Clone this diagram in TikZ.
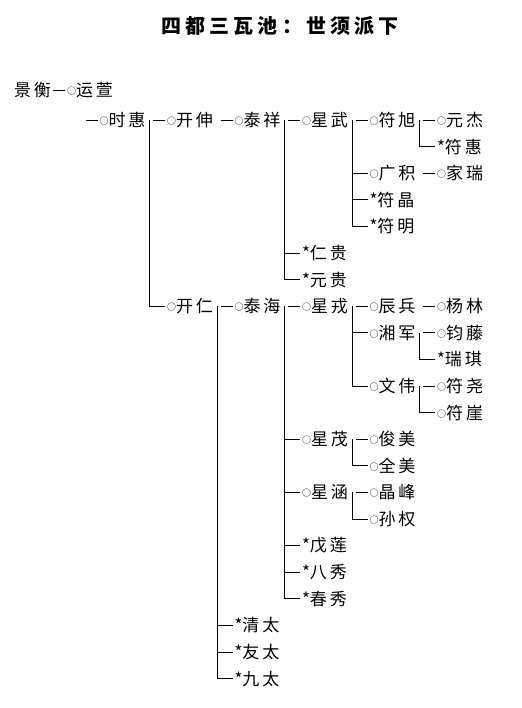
\documentclass[tikz,border=0pt]{standalone}
\usepackage{fontspec}
\newfontfamily\cjkname[LetterSpace=17.6]{Noto Sans CJK SC}
\newfontfamily\cjktitle[LetterSpace=21,BoldFont={* Black}]{Noto Sans CJK SC}
\newcommand\oo{\makebox[9pt]{\raisebox{2pt}{\fontsize{9pt}{9pt}\selectfont ○}}}
\newcommand\xing{\makebox[8pt]{*}}
\tikzset{
  pn/.style={anchor=west, inner sep=0pt, outer sep=0pt, font={\cjkname\fontsize{17pt}{20pt}\selectfont}},
  ttl/.style={inner sep=0pt, font={\cjktitle\bfseries\fontsize{20pt}{24pt}\selectfont}},
  ln/.style={line width=0.9pt, black}
}
\begin{document}
\begin{tikzpicture}[x=1pt,y=-1pt]
\useasboundingbox (0,0) rectangle (521,708);
\node[ttl] (title) at (280,26) {四都三瓦池：世须派下};
% people
\node[pn] (jh) at (14,90) {景衡};
\node[pn] (yx) at (67,90) {\oo 运萱};
\node[pn] (sh) at (99.5,120) {\oo 时惠};
\node[pn] (ks) at (167,120) {\oo 开伸};
\node[pn] (tx) at (234.5,120) {\oo 泰祥};
\node[pn] (xw) at (302,120) {\oo 星武};
\node[pn] (fx) at (369.5,120) {\oo 符旭};
\node[pn] (yj) at (437,120) {\oo 元杰};
\node[pn] (fh) at (437,146.6) {\xing 符惠};
\node[pn] (gj) at (369.5,173.2) {\oo 广积};
\node[pn] (jr) at (437,173.2) {\oo 家瑞};
\node[pn] (fj) at (369.5,199.8) {\xing 符晶};
\node[pn] (fm) at (369.5,226.4) {\xing 符明};
\node[pn] (rg) at (302,253) {\xing 仁贵};
\node[pn] (yg) at (302,279.6) {\xing 元贵};
\node[pn] (kr) at (167,306.2) {\oo 开仁};
\node[pn] (th) at (234.5,306.2) {\oo 泰海};
\node[pn] (xr) at (302,306.2) {\oo 星戎};
\node[pn] (cb) at (369.5,306.2) {\oo 辰兵};
\node[pn] (yl) at (437,306.2) {\oo 杨林};
\node[pn] (xj) at (369.5,332.8) {\oo 湘军};
\node[pn] (jt) at (437,332.8) {\oo 钧藤};
\node[pn] (rq) at (437,359.4) {\xing 瑞琪};
\node[pn] (ww) at (369.5,386) {\oo 文伟};
\node[pn] (fy) at (437,386) {\oo 符尧};
\node[pn] (fya) at (437,412.6) {\oo 符崖};
\node[pn] (xm) at (302,439.2) {\oo 星茂};
\node[pn] (jm) at (369.5,439.2) {\oo 俊美};
\node[pn] (qm) at (369.5,465.8) {\oo 全美};
\node[pn] (xh) at (302,492.4) {\oo 星涵};
\node[pn] (jf) at (369.5,492.4) {\oo 晶峰};
\node[pn] (sq) at (369.5,519) {\oo 孙权};
\node[pn] (wl) at (302,545.6) {\xing 戊莲};
\node[pn] (bx) at (302,572.2) {\xing 八秀};
\node[pn] (cx) at (302,598.8) {\xing 春秀};
\node[pn] (qt) at (234.5,625.4) {\xing 清太};
\node[pn] (yt) at (234.5,652) {\xing 友太};
\node[pn] (jt2) at (234.5,678.6) {\xing 九太};
% branch points
\coordinate (jh-b) at (49.5,90);
\coordinate (yx-b) at (82,120);
\coordinate (sh-b) at (149.5,120);
\coordinate (ks-b) at (217,120);
\coordinate (tx-b) at (284.5,120);
\coordinate (xw-b) at (352,120);
\coordinate (fx-b) at (419.5,120);
\coordinate (gj-b) at (419.5,173.2);
\coordinate (kr-b) at (217,306.2);
\coordinate (th-b) at (284.5,306.2);
\coordinate (xr-b) at (352,306.2);
\coordinate (cb-b) at (419.5,306.2);
\coordinate (xj-b) at (419.5,332.8);
\coordinate (ww-b) at (419.5,386);
\coordinate (xm-b) at (352,439.2);
\coordinate (xh-b) at (352,492.4);
% first-child dashes
\foreach \b/\c in {jh-b/yx, yx-b/sh, sh-b/ks, ks-b/tx, tx-b/xw, xw-b/fx, fx-b/yj, gj-b/jr,
                   kr-b/th, th-b/xr, xr-b/cb, cb-b/yl, xj-b/jt, ww-b/fy, xm-b/jm, xh-b/jf}
  \draw[ln] ([xshift=3.5pt]\b) -- ([xshift=-2pt]\c.west);
% other children
\foreach \b/\c in {sh-b/kr, tx-b/rg, tx-b/yg, xw-b/gj, xw-b/fj, xw-b/fm, fx-b/fh,
                   kr-b/qt, kr-b/yt, kr-b/jt2, th-b/xm, th-b/xh, th-b/wl, th-b/bx, th-b/cx,
                   xr-b/xj, xr-b/ww, xj-b/rq, ww-b/fya, xm-b/qm, xh-b/sq}
  \draw[ln] (\b) |- ([xshift=-2pt]\c.west);
\end{tikzpicture}
\end{document}
